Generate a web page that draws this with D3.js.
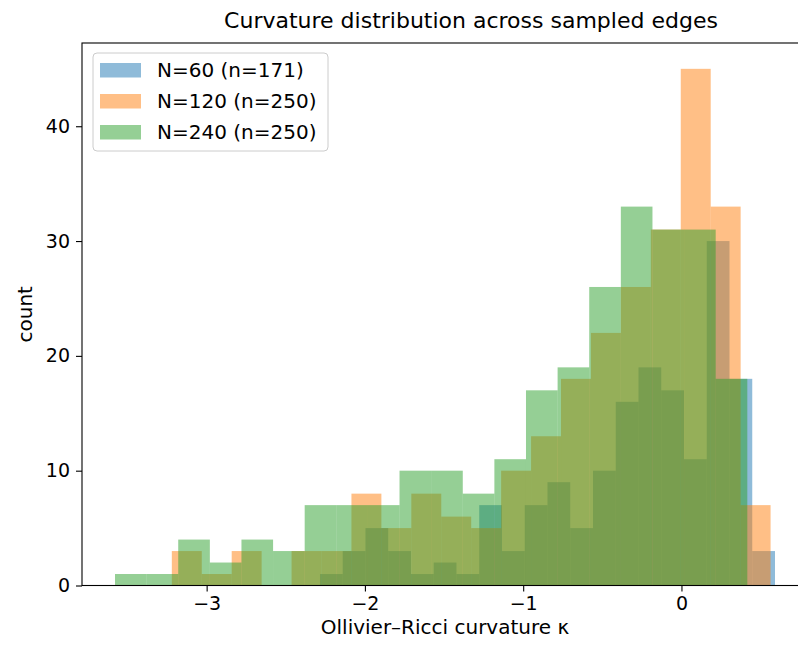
<!DOCTYPE html>
<html>
<head>
<meta charset="utf-8">
<script src="https://cdn.jsdelivr.net/npm/d3@7"></script>
<style>
  body { margin: 0; background: #fff; }
  svg { display: block; font-family: "DejaVu Sans", sans-serif; }
</style>
</head>
<body>
<script>
// series labels and colours (matplotlib tab10, drawn at alpha 0.5)
var seriesNames = ["N=60 (n=171)", "N=120 (n=250)", "N=240 (n=250)"];
var seriesColors = ["#1f77b4", "#ff7f0e", "#2ca02c"];

// each series is a 20-bin histogram over its own [min, max]
var rangeN60 = [-2.284, 0.591];
var rangeN120 = [-3.220, 0.563];
var rangeN240 = [-3.579, 0.416];

var countsN60 = [1, 3, 5, 3, 1, 2, 1, 7, 3, 7, 9, 5, 10, 16, 19, 17, 11, 30, 18, 3];
var countsN120 = [3, 1, 3, 0, 3, 3, 8, 5, 8, 6, 5, 10, 13, 18, 22, 26, 31, 45, 33, 7];
var countsN240 = [1, 1, 4, 2, 4, 3, 7, 7, 7, 10, 10, 8, 11, 17, 19, 26, 33, 31, 31, 18];

var xTicks = [-3, -2, -1, 0];
var yTicks = [0, 10, 20, 30, 40];

// setting dimensions and margins (axes run past the right edge of the picture)
var margin = {top: 43, left: 82},
    width = 726,
    height = 542.5;

var series = [
  {name: seriesNames[0], color: seriesColors[0], range: rangeN60, counts: countsN60},
  {name: seriesNames[1], color: seriesColors[1], range: rangeN120, counts: countsN120},
  {name: seriesNames[2], color: seriesColors[2], range: rangeN240, counts: countsN240}
];

// turn counts into bins with their edges
series.forEach(function(s) {
  var n = s.counts.length,
      step = (s.range[1] - s.range[0]) / n;
  s.bins = s.counts.map(function(c, i) {
    return {x0: s.range[0] + i * step, x1: s.range[0] + (i + 1) * step, count: c};
  });
});

// x limits with matplotlib's 5% margin, y with 5% headroom
var lo = d3.min(series, function(s) { return s.range[0]; }),
    hi = d3.max(series, function(s) { return s.range[1]; }),
    pad = (hi - lo) * 0.05;

var x = d3.scaleLinear().domain([lo - pad, hi + pad]).range([0, width]);
var yMax = d3.max(series, function(s) { return d3.max(s.counts); }) * 1.05;
var y = d3.scaleLinear().domain([0, yMax]).range([height, 0]);

var svg = d3.select("body").append("svg")
    .attr("width", 798)
    .attr("height", 648);

var g = svg.append("g")
    .attr("transform", "translate(" + margin.left + "," + margin.top + ")");

// the bars, one layer per series
series.forEach(function(s) {
  g.append("g")
    .selectAll("rect")
    .data(s.bins)
    .enter().append("rect")
      .attr("x", function(d) { return x(d.x0); })
      .attr("width", function(d) { return x(d.x1) - x(d.x0); })
      .attr("y", function(d) { return y(d.count); })
      .attr("height", function(d) { return y(0) - y(d.count); })
      .attr("fill", s.color)
      .attr("fill-opacity", 0.5);
});

var minus = function(v) { return (v < 0 ? "\u2212" : "") + Math.abs(v); };

// x axis
var xAxis = g.append("g")
    .attr("transform", "translate(0," + height + ")")
    .call(d3.axisBottom(x).tickValues(xTicks).tickFormat(minus).tickSize(6).tickPadding(5.5));

// y axis
var yAxis = g.append("g")
    .call(d3.axisLeft(y).tickValues(yTicks).tickSize(6).tickPadding(6));

[xAxis, yAxis].forEach(function(a) {
  a.select(".domain").remove();
  a.selectAll("line").attr("stroke", "#000").attr("stroke-width", 1.1);
  a.selectAll("text").attr("fill", "#000").style("font-size", "19px")
    .style("font-family", "DejaVu Sans, sans-serif");
});

// frame
g.append("rect")
    .attr("width", width)
    .attr("height", height)
    .attr("fill", "none")
    .attr("stroke", "#000")
    .attr("stroke-width", 1.1);

// axis labels
g.append("text")
    .attr("x", width / 2)
    .attr("y", height + 48.5)
    .attr("text-anchor", "middle")
    .style("font-size", "20px")
    .text("Ollivier\u2013Ricci curvature \u03ba");

g.append("text")
    .attr("transform", "rotate(-90)")
    .attr("x", -height / 2)
    .attr("y", -50)
    .attr("text-anchor", "middle")
    .style("font-size", "20px")
    .text("count");

// title
svg.append("text")
    .attr("x", 471)
    .attr("y", 28)
    .attr("text-anchor", "middle")
    .style("font-size", "22px")
    .text("Curvature distribution across sampled edges");

// legend
var legend = svg.append("g").attr("transform", "translate(93,53)");

legend.append("rect")
    .attr("width", 235)
    .attr("height", 98)
    .attr("rx", 4)
    .attr("fill", "#fff")
    .attr("fill-opacity", 0.8)
    .attr("stroke", "#ccc")
    .attr("stroke-width", 1);

series.forEach(function(s, i) {
  var row = legend.append("g").attr("transform", "translate(0," + (i * 31) + ")");
  row.append("rect")
      .attr("x", 7)
      .attr("y", 10)
      .attr("width", 41)
      .attr("height", 14.5)
      .attr("fill", s.color)
      .attr("fill-opacity", 0.5);
  row.append("text")
      .attr("x", 64)
      .attr("y", 24)
      .style("font-size", "20px")
      .text(s.name);
});
</script>
</body>
</html>
